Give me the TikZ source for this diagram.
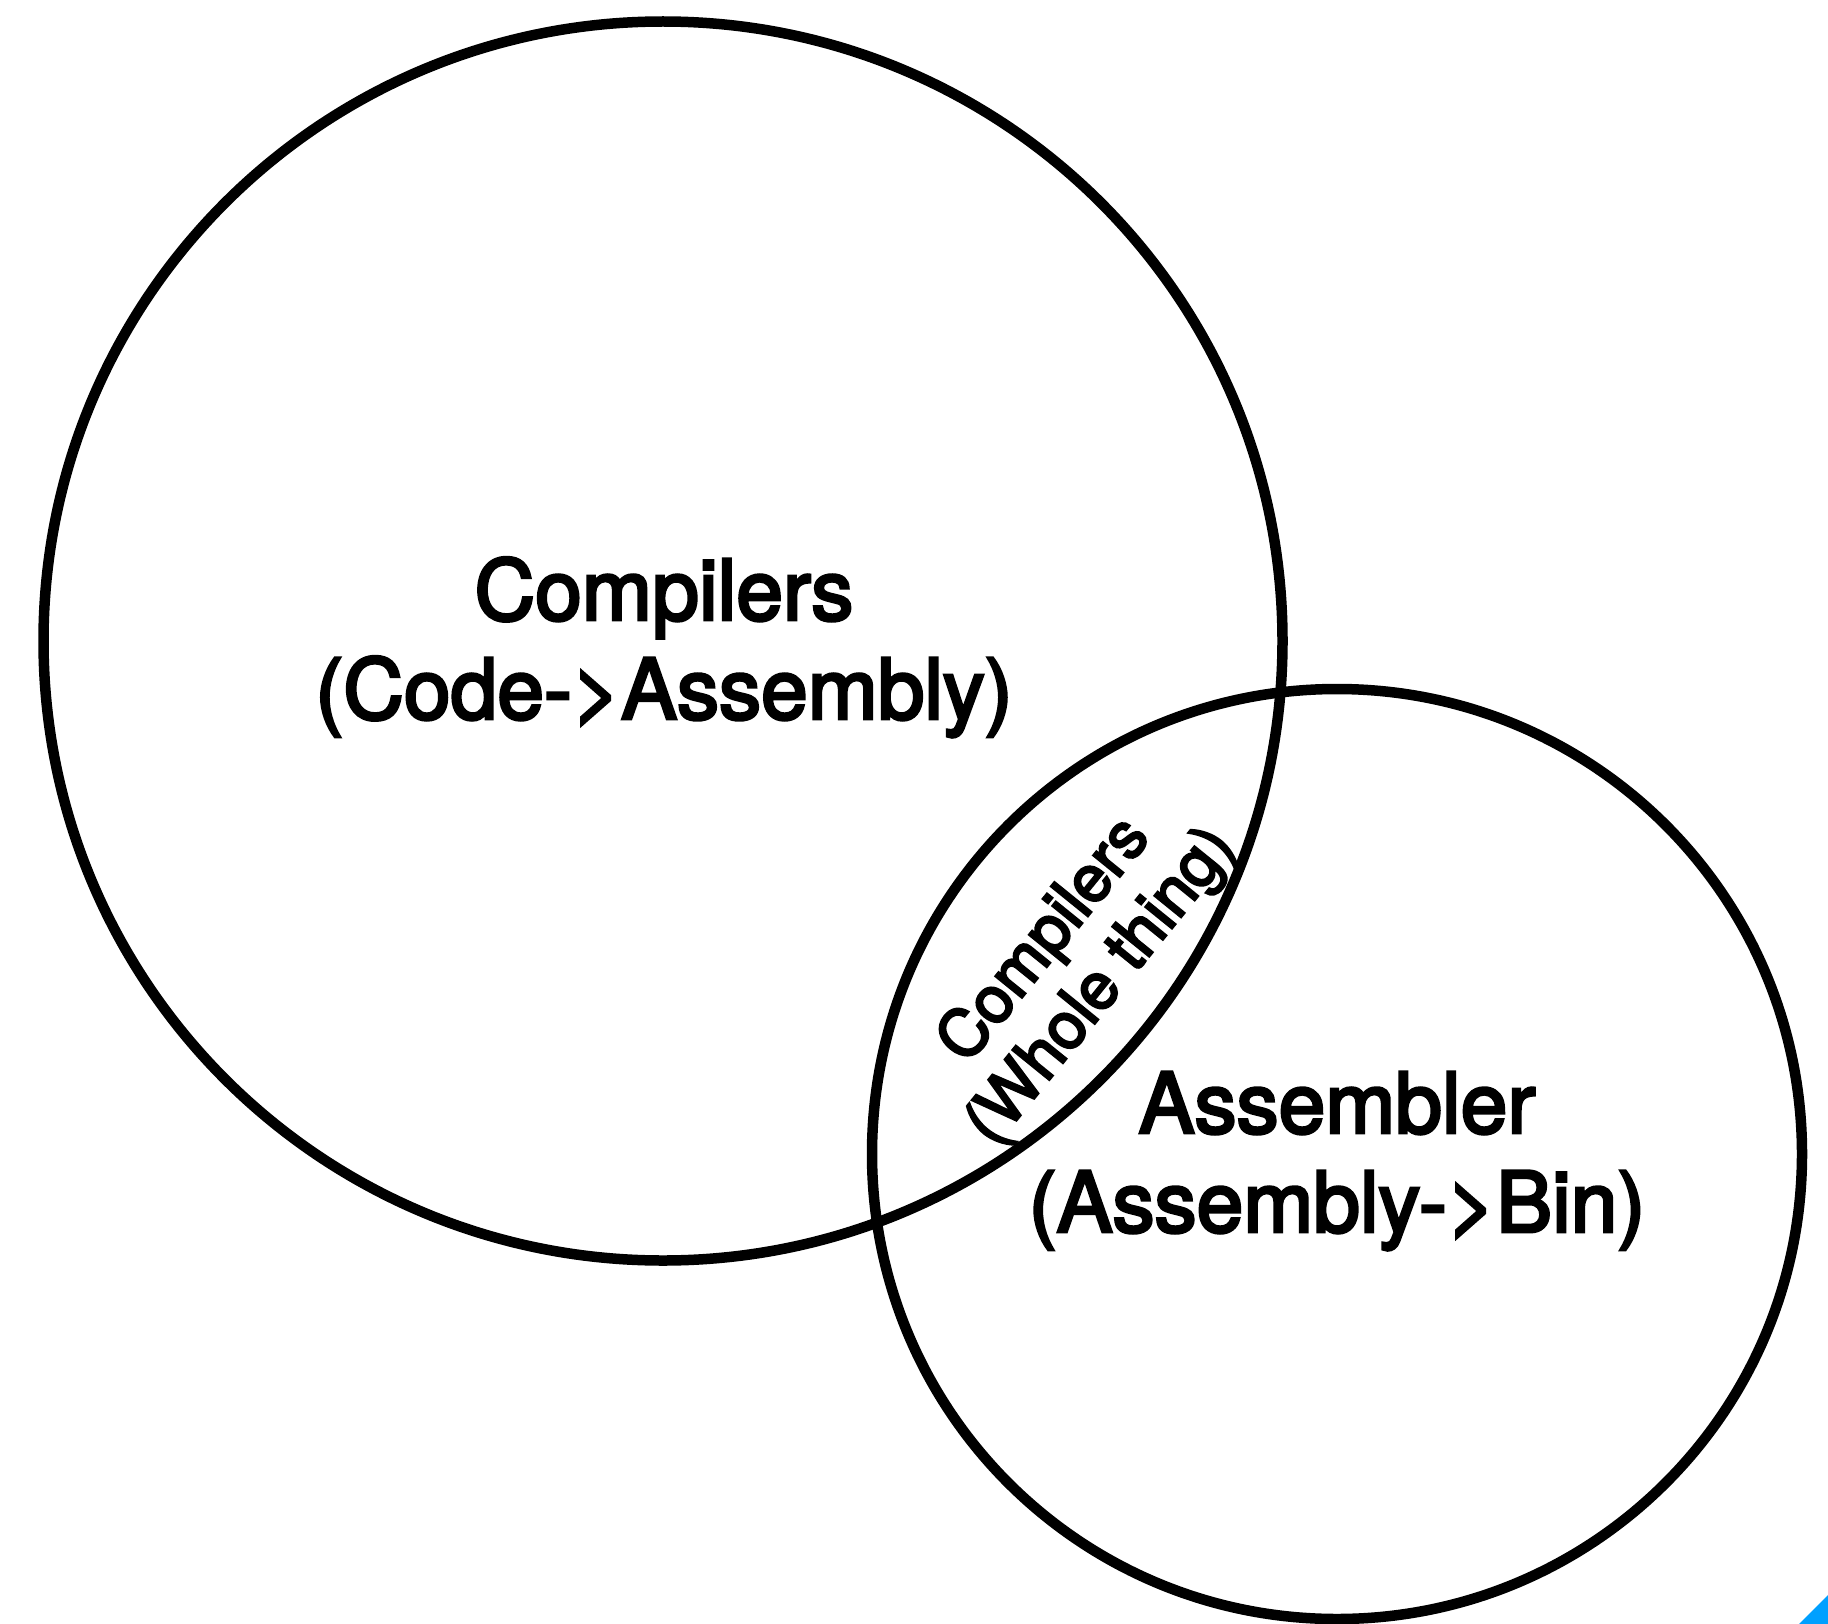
\documentclass[tikz,border=0pt]{standalone}
\usepackage{fontspec}
\setmainfont{TeX Gyre Heros}
\newfontfamily\medfont{TeX Gyre Heros}[FakeBold=3.5]
\begin{document}
\begin{tikzpicture}[x=1pt,y=-1pt,
  ring/.style={draw=black,line width=10.5pt},
  biglabel/.style={align=center,font=\medfont\fontsize{84}{99}\selectfont,inner sep=0pt},
  midlabel/.style={align=center,font=\medfont\fontsize{65}{73}\selectfont,inner sep=0pt}]
\useasboundingbox (0,0) rectangle (1828,1624);
\fill[white] (0,0) rectangle (1828,1624);
% the two sets
\coordinate (cc) at (663,641);
\coordinate (ac) at (1337,1154);
\draw[ring] (cc) circle[radius=619.5];
\draw[ring] (ac) circle[radius=465];
% labels (base anchor sits on the last line)
\node[biglabel,anchor=base] (comp) at (664,719) {Compilers\\(Code->Assembly)};
\node[biglabel,anchor=base] (asm) at (1337,1232) {Assembler\\(Assembly->Bin)};
\node[midlabel,rotate=51] (whole) at (1074,964) {Compilers\\(Whole thing)};
% corner mark
\fill[fill={rgb,255:red,0;green,160;blue,255}] (1828,1595) -- (1828,1624) -- (1799,1624) -- cycle;
\end{tikzpicture}
\end{document}
